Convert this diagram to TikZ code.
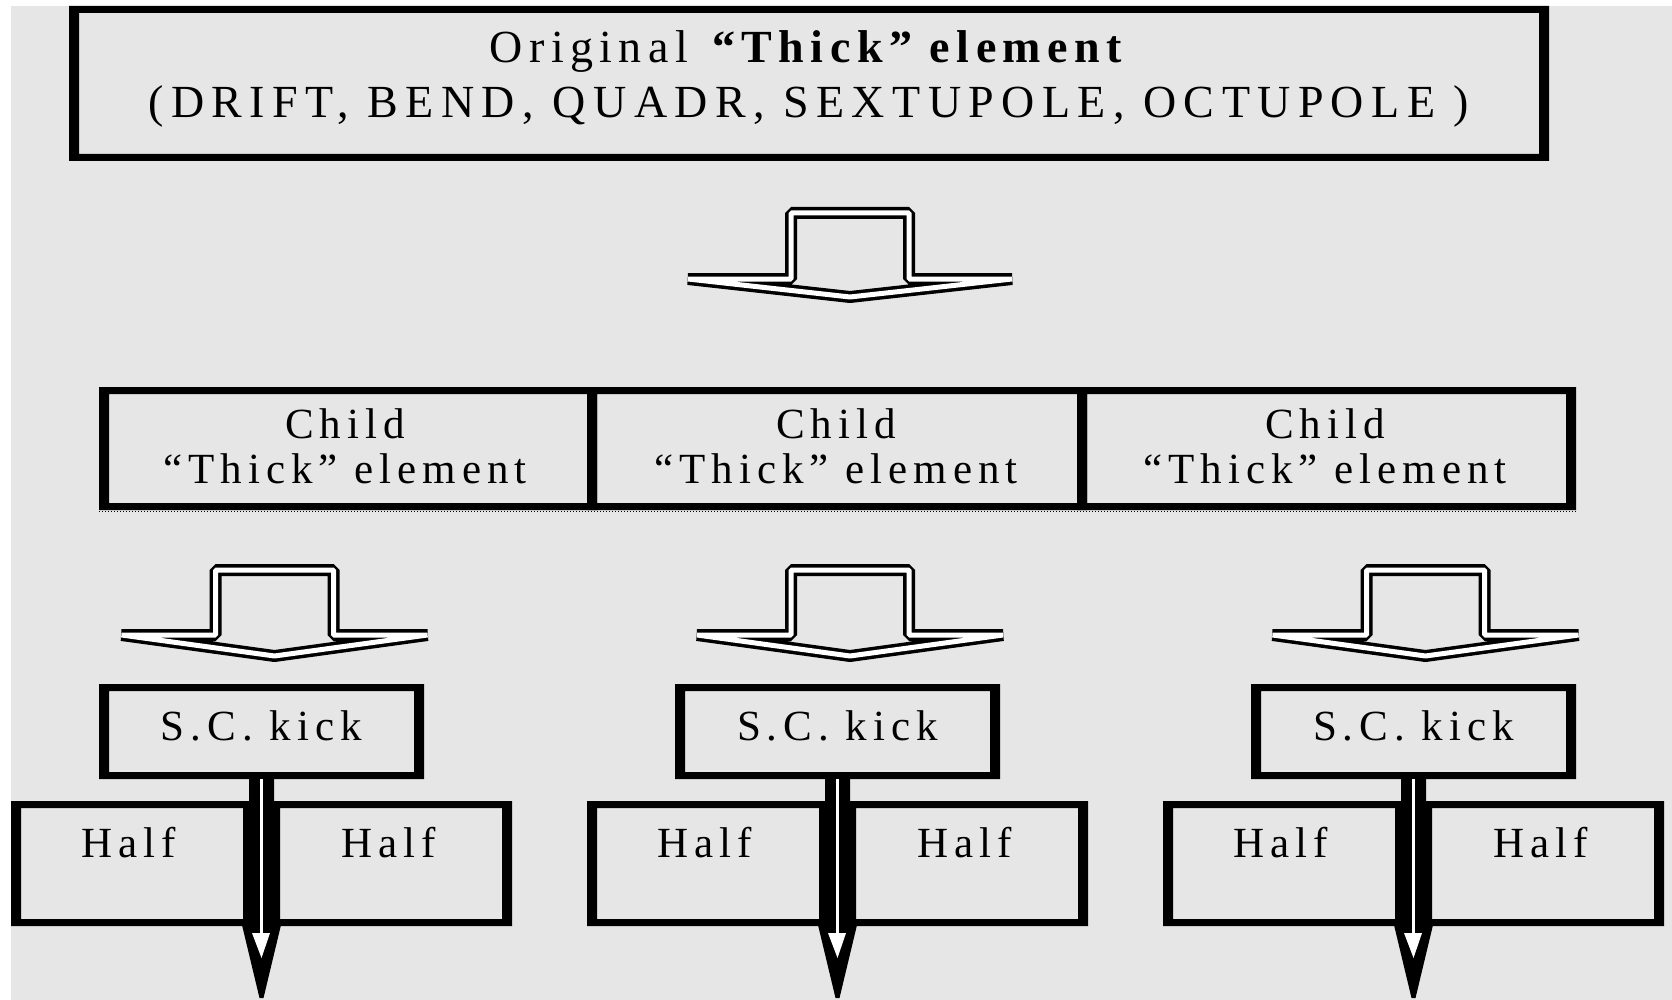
\documentclass[tikz,border=0pt]{standalone}
\usepackage{fontspec}
\setmainfont{Liberation Serif}[LetterSpace=14]
\definecolor{bg}{RGB}{230,230,230}
\newcommand\frameit[1]{\fill[black,even odd rule] (#1.north west) rectangle (#1.south east) ([shift={(10,7)}]#1.north west) rectangle ([shift={(-10,-7)}]#1.south east);}
\begin{document}
\begin{tikzpicture}[x=1pt,y=-1pt,
  frame/.style={inner sep=0pt, outer sep=0pt},
  lbl/.style={anchor=base, inner sep=0pt, font=\fontsize{43}{50}\selectfont},
  biglbl/.style={lbl, font=\fontsize{46}{54}\selectfont},
  flow/.style={draw=black, line width=3.5pt, double=white, double distance=5pt, line join=bevel},
  thin/.style={fill=black}]
\useasboundingbox (0,0) rectangle (1672,1000);
\fill[white] (0,0) rectangle (1672,1000);
\fill[bg] (11,6) rectangle (1672,1000);

% top box
\node[frame, minimum width=1480pt, minimum height=155pt] (top) at (809,83.5) {};
\frameit{top}
\node[biglbl] (topl1) at (809,63) {Original \textbf{“Thick” element}};
\node[biglbl] (topl2) at (809,118) {\addfontfeature{LetterSpace=16}(DRIFT, BEND, QUADR, SEXTUPOLE, OCTUPOLE )};

% big arrow
\draw[flow] (850-59,213) -- (850+59,213) -- (850+59,279) -- (850+162,279) -- (850,297) -- (850-162,279) -- (850-59,279) -- cycle;

% child boxes
\node[frame, minimum width=498pt, minimum height=123pt] (c1) at (348,448.5) {};
\node[frame, minimum width=500pt, minimum height=123pt] (c2) at (837,448.5) {};
\node[frame, minimum width=499pt, minimum height=123pt] (c3) at (1326.5,448.5) {};
\frameit{c1}\frameit{c2}\frameit{c3}
\draw[dotted, line width=1pt] ([yshift=-1.5pt]c1.south west) -- ([yshift=-1.5pt]c3.south east);
\foreach \i/\x in {1/345,2/836,3/1325}{
  \node[lbl] (ct\i a) at (\x,438) {Child};
  \node[lbl] (ct\i b) at (\x,483) {“Thick” element};
}

% small arrows
\foreach \cx in {274.5,850,1425.5}{
  \draw[flow] (\cx-59,570) -- (\cx+59,570) -- (\cx+59,635) -- (\cx+153,635) -- (\cx,656) -- (\cx-153,635) -- (\cx-59,635) -- cycle;
}

% S.C. kick boxes and halves
\foreach \i in {1,2,3}{
  \pgfmathsetmacro\cx{261.5+576*(\i-1)}
  \pgfmathsetmacro\hl{132+576*(\i-1)}
  \pgfmathsetmacro\hr{391+576*(\i-1)}
  \node[frame, minimum width=325pt, minimum height=95pt] (sc\i) at (\cx,731.5) {};
  \node[lbl] (sct\i) at (\cx,740) {S.C. kick};
  \frameit{sc\i}
  \node[frame, minimum width=242pt, minimum height=125pt] (hl\i) at (\hl,863.5) {};
  \node[frame, minimum width=242pt, minimum height=125pt] (hr\i) at (\hr,863.5) {};
  \frameit{hl\i}\frameit{hr\i}
  \node[lbl] (hlt\i) at (\hl-3,857) {Half};
  \node[lbl] (hrt\i) at (\hr-2,857) {Half};
  \coordinate (end\i) at (\cx,998);
  \fill[thin] ([xshift=-12.5pt]sc\i.south) -- ([xshift=12.5pt]sc\i.south) -- (\cx+12.5,925) -- (\cx+19.5,925) -- ([xshift=2pt]end\i) -- ([xshift=-2pt]end\i) -- (\cx-19.5,925) -- (\cx-12.5,925) -- cycle;
  \fill[white] (\cx-1.5,779) rectangle (\cx+1.5,934);
  \fill[white] (\cx-9.5,933) -- (\cx+8.5,933) -- (\cx,958) -- cycle;
}
\end{tikzpicture}
\end{document}
